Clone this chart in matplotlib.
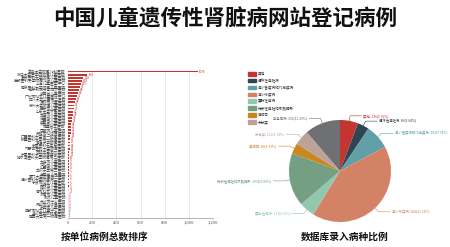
import matplotlib
matplotlib.use("Agg")
import matplotlib.pyplot as plt
import numpy as np

plt.rcParams['font.family'] = ['Noto Sans CJK SC', 'DejaVu Sans']

title = "中国儿童遗传性肾脏病网站登记病例"
left_title = "按单位病例总数排序"
right_title = "数据库录入病种比例"

hospitals = [
    "复旦大学附属儿科医院", "浙江大学医学院附属儿童医院", "重庆医科大学附属儿童医院",
    "首都医科大学附属北京儿童医院", "上海儿童医学中心", "南京医科大学附属儿童医院",
    "华中科技大学同济医院", "湖南省儿童医院", "广州市妇女儿童医疗中心",
    "四川大学华西第二医院", "深圳市儿童医院", "苏州大学附属儿童医院",
    "西安市儿童医院", "山东大学齐鲁医院", "天津市儿童医院", "河南省儿童医院",
    "江西省儿童医院", "安徽省儿童医院", "福建省立医院", "昆明市儿童医院",
    "贵阳市妇幼保健院", "广西医科大学第一附属医院", "新疆医科大学第一附属医院",
    "青海大学附属医院", "宁夏医科大学总医院", "内蒙古医科大学附属医院",
    "吉林大学第一医院", "中国医科大学附属盛京医院", "哈尔滨医科大学附属第二医院",
    "大连市儿童医院", "河北省儿童医院", "山西省儿童医院", "兰州大学第二医院",
    "海南省人民医院", "厦门大学附属第一医院", "温州医科大学附属第二医院",
    "宁波市妇女儿童医院", "无锡市儿童医院", "徐州市儿童医院", "青岛妇女儿童医院",
    "济南市儿童医院", "武汉儿童医院", "长沙市中心医院", "佛山市妇幼保健院",
    "东莞市儿童医院", "成都市妇女儿童中心医院", "遵义医学院附属医院", "南昌大学第一附属医院",
]
hospital_cases = [
    1076, 160, 128, 118, 105, 96, 88, 80, 72, 65, 58, 52, 47, 42, 38, 34,
    31, 28, 25, 23, 21, 19, 17, 15, 14, 13, 12, 11, 10, 9, 8, 8,
    7, 7, 6, 6, 5, 5, 4, 4, 3, 3, 3, 2, 2, 2, 1, 1,
]
x_ticks = [0, 200, 400, 600, 800, 1000, 1200]
x_tick_labels = ["0", "200", "400", "600", "800", "1,000", "1,200"]

disease_names = ["其他", "遗传性肾脏病", "肾小管疾病和代谢疾病", "肾小球疾病", "囊肿性肾病",
                 "先天性肾脏和尿路畸形", "肾结石", "未分类", "染色体病"]
disease_counts = [136, 86, 183, 984, 117, 399, 80, 112, 266]
colors = ["#c23531", "#2f4554", "#61a0a8", "#d48265", "#91c7ae",
          "#749f83", "#ca8622", "#bda29a", "#6e7074"]

W, H = 450, 247
fig = plt.figure(figsize=(W / 100, H / 100), dpi=100)

fig.text(0.5, 1 - 19 / H, title, ha="center", va="center", fontsize=15.5,
         fontweight="bold", color="#111111")

# ---- Bar chart ----
ax = fig.add_axes([68 / W, 1 - 218 / H, 145 / W, 148 / H])
y = np.arange(len(hospitals))
ax.barh(y, hospital_cases, height=0.6, color="#c23531")
ax.set_ylim(len(hospitals) - 0.5, -0.5)
ax.set_xlim(0, 1200)
ax.set_xticks(x_ticks)
ax.set_xticklabels(x_tick_labels, fontsize=3, color="#555555")
ax.set_yticks(y)
ax.set_yticklabels(hospitals, fontsize=2.7, color="#444444")
ax.tick_params(axis="y", length=0, pad=1.5)
ax.tick_params(axis="x", length=1, width=0.4, color="#999999", pad=1)
ax.grid(axis="x", color="#e6e6e6", linewidth=0.6)
ax.set_axisbelow(True)
for s in ["top", "right", "left"]:
    ax.spines[s].set_visible(False)
ax.spines["bottom"].set_color("#aaaaaa")
ax.spines["bottom"].set_linewidth(0.6)
for yi, v in zip(y, hospital_cases):
    ax.text(v + 8, yi, str(v), fontsize=2.2, color="#c23531", va="center", ha="left")

fig.text(105 / W, 1 - 237 / H, left_title, ha="center", va="center",
         fontsize=7, fontweight="bold", color="#111111")

# ---- Pie chart ----
r_px = 51
cx, cy = 340, 171
pax = fig.add_axes([(cx - r_px) / W, 1 - (cy + r_px) / H, 2 * r_px / W, 2 * r_px / H])
wedges, _ = pax.pie(disease_counts, colors=colors, startangle=90, counterclock=False,
                    radius=1, wedgeprops=dict(linewidth=0))
pax.set_xlim(-1, 1)
pax.set_ylim(-1, 1)
pax.set_aspect("equal")
pax.axis("off")

total = sum(disease_counts)
for w, name, n, c in zip(wedges, disease_names, disease_counts, colors):
    ang = np.deg2rad((w.theta1 + w.theta2) / 2)
    ex, ey = np.cos(ang), np.sin(ang)
    p1x, p1y = 1.1 * ex, 1.1 * ey
    sign = 1 if ex >= 0 else -1
    p2x = p1x + sign * 0.22
    pax.plot([ex, p1x, p2x], [ey, p1y, p1y], color=c, linewidth=0.4, clip_on=False)
    pct = n / total * 100
    pax.text(p2x + sign * 0.04, p1y, f"{name}: {n}({pct:.2f}%)", fontsize=2.4,
             color=c, ha="left" if sign > 0 else "right", va="center", clip_on=False)

# legend
handles = [plt.Rectangle((0, 0), 1, 1, color=c) for c in colors[:8]]
leg = fig.legend(handles, disease_names[:8], loc="upper left",
                 bbox_to_anchor=(246 / W, 1 - 70 / H), frameon=False, fontsize=2.6,
                 handlelength=2.2, handleheight=1.2, labelspacing=0.75,
                 handletextpad=0.6, borderpad=0)
for t in leg.get_texts():
    t.set_color("#333333")

fig.text(345 / W, 1 - 237 / H, right_title, ha="center", va="center",
         fontsize=7, fontweight="bold", color="#111111")

fig.savefig("out.png", dpi=100)
